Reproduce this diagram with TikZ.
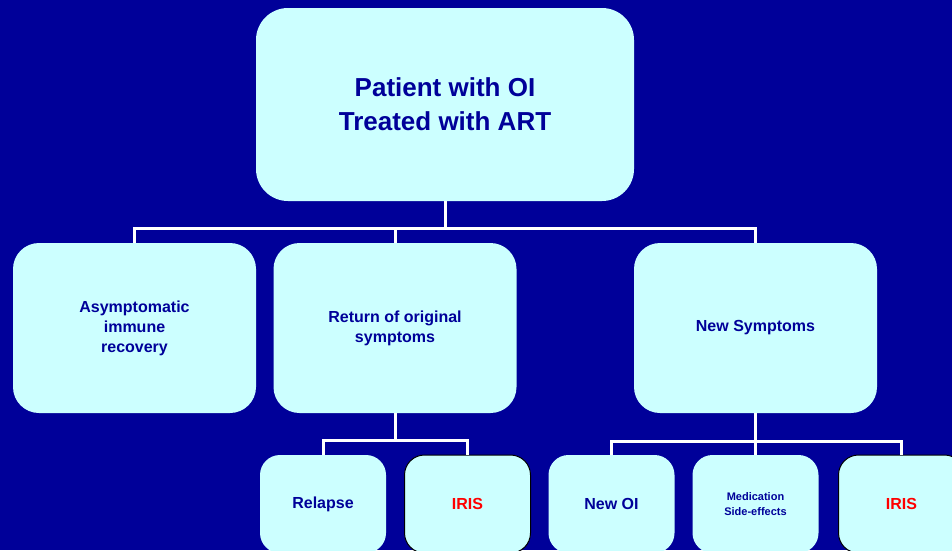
\documentclass[tikz,border=0pt]{standalone}
\usepackage{fontspec}
\setmainfont{Liberation Sans}
\definecolor{bg-blue}{RGB}{0,0,153}
\definecolor{box-cyan}{RGB}{204,255,255}
\definecolor{txt-blue}{RGB}{0,0,153}
\definecolor{iris-red}{RGB}{255,0,0}
\newcommand{\fsz}[2]{\fontsize{#1}{#2}\selectfont\bfseries}

\begin{document}
\begin{tikzpicture}[x=1pt, y=-1pt,
    box/.style={fill=box-cyan, text=txt-blue, align=center, inner sep=0pt},
    bigbox/.style={box, rounded corners=32pt, minimum width=378pt, minimum height=193pt, font=\fsz{26}{34}},
    midbox/.style={box, rounded corners=26pt, minimum width=243pt, minimum height=170pt, font=\fsz{16}{20}},
    smallbox/.style={box, rounded corners=20pt, minimum width=126pt, minimum height=98pt, font=\fsz{16}{20}},
    irisbox/.style={smallbox, draw=black, line width=1pt, text=iris-red},
    link/.style={white, line width=3pt}]
                \useasboundingbox (0,0) rectangle (952,550);
                \fill[bg-blue] (0,0) rectangle (952,550);
                \clip (0,0) rectangle (952,550);
                % top
                \node[bigbox] (pat) at (445,104.5) {Patient with OI\\Treated with ART};
                % second row
                \node[midbox] (asym) at (134.5,328) {Asymptomatic\\immune\\recovery};
                \node[midbox] (ret) at (395,328) {Return of original\\symptoms};
                \node[midbox] (news) at (755.5,328) {New Symptoms};
                % third row
                \node[smallbox] (rel) at (323,504) {Relapse};
                \node[irisbox] (iris1) at (467.5,504) {IRIS};
                \node[smallbox] (newoi) at (611.5,504) {New OI};
                \node[smallbox, font=\fsz{11}{15}] (med) at (755.5,504) {Medication\\Side-effects};
                \node[irisbox] (iris2) at (901.5,504) {IRIS};
                % links
                \coordinate (j1) at (445,228);
                \coordinate (j2) at (395,440);
                \coordinate (j3) at (755.5,441.5);
                \draw[link] (pat.south) -- (j1);
                \draw[link] (j1) -| (asym.north) (j1) -| (ret.north) (j1) -| (news.north);
                \draw[link] (ret.south) -- (j2);
                \draw[link] (j2) -| (rel.north) (j2) -| (iris1.north);
                \draw[link] (news.south) -- (j3);
                \draw[link] (j3) -| (newoi.north) (j3) -| (med.north) (j3) -| (iris2.north);
            \end{tikzpicture}
\end{document}
